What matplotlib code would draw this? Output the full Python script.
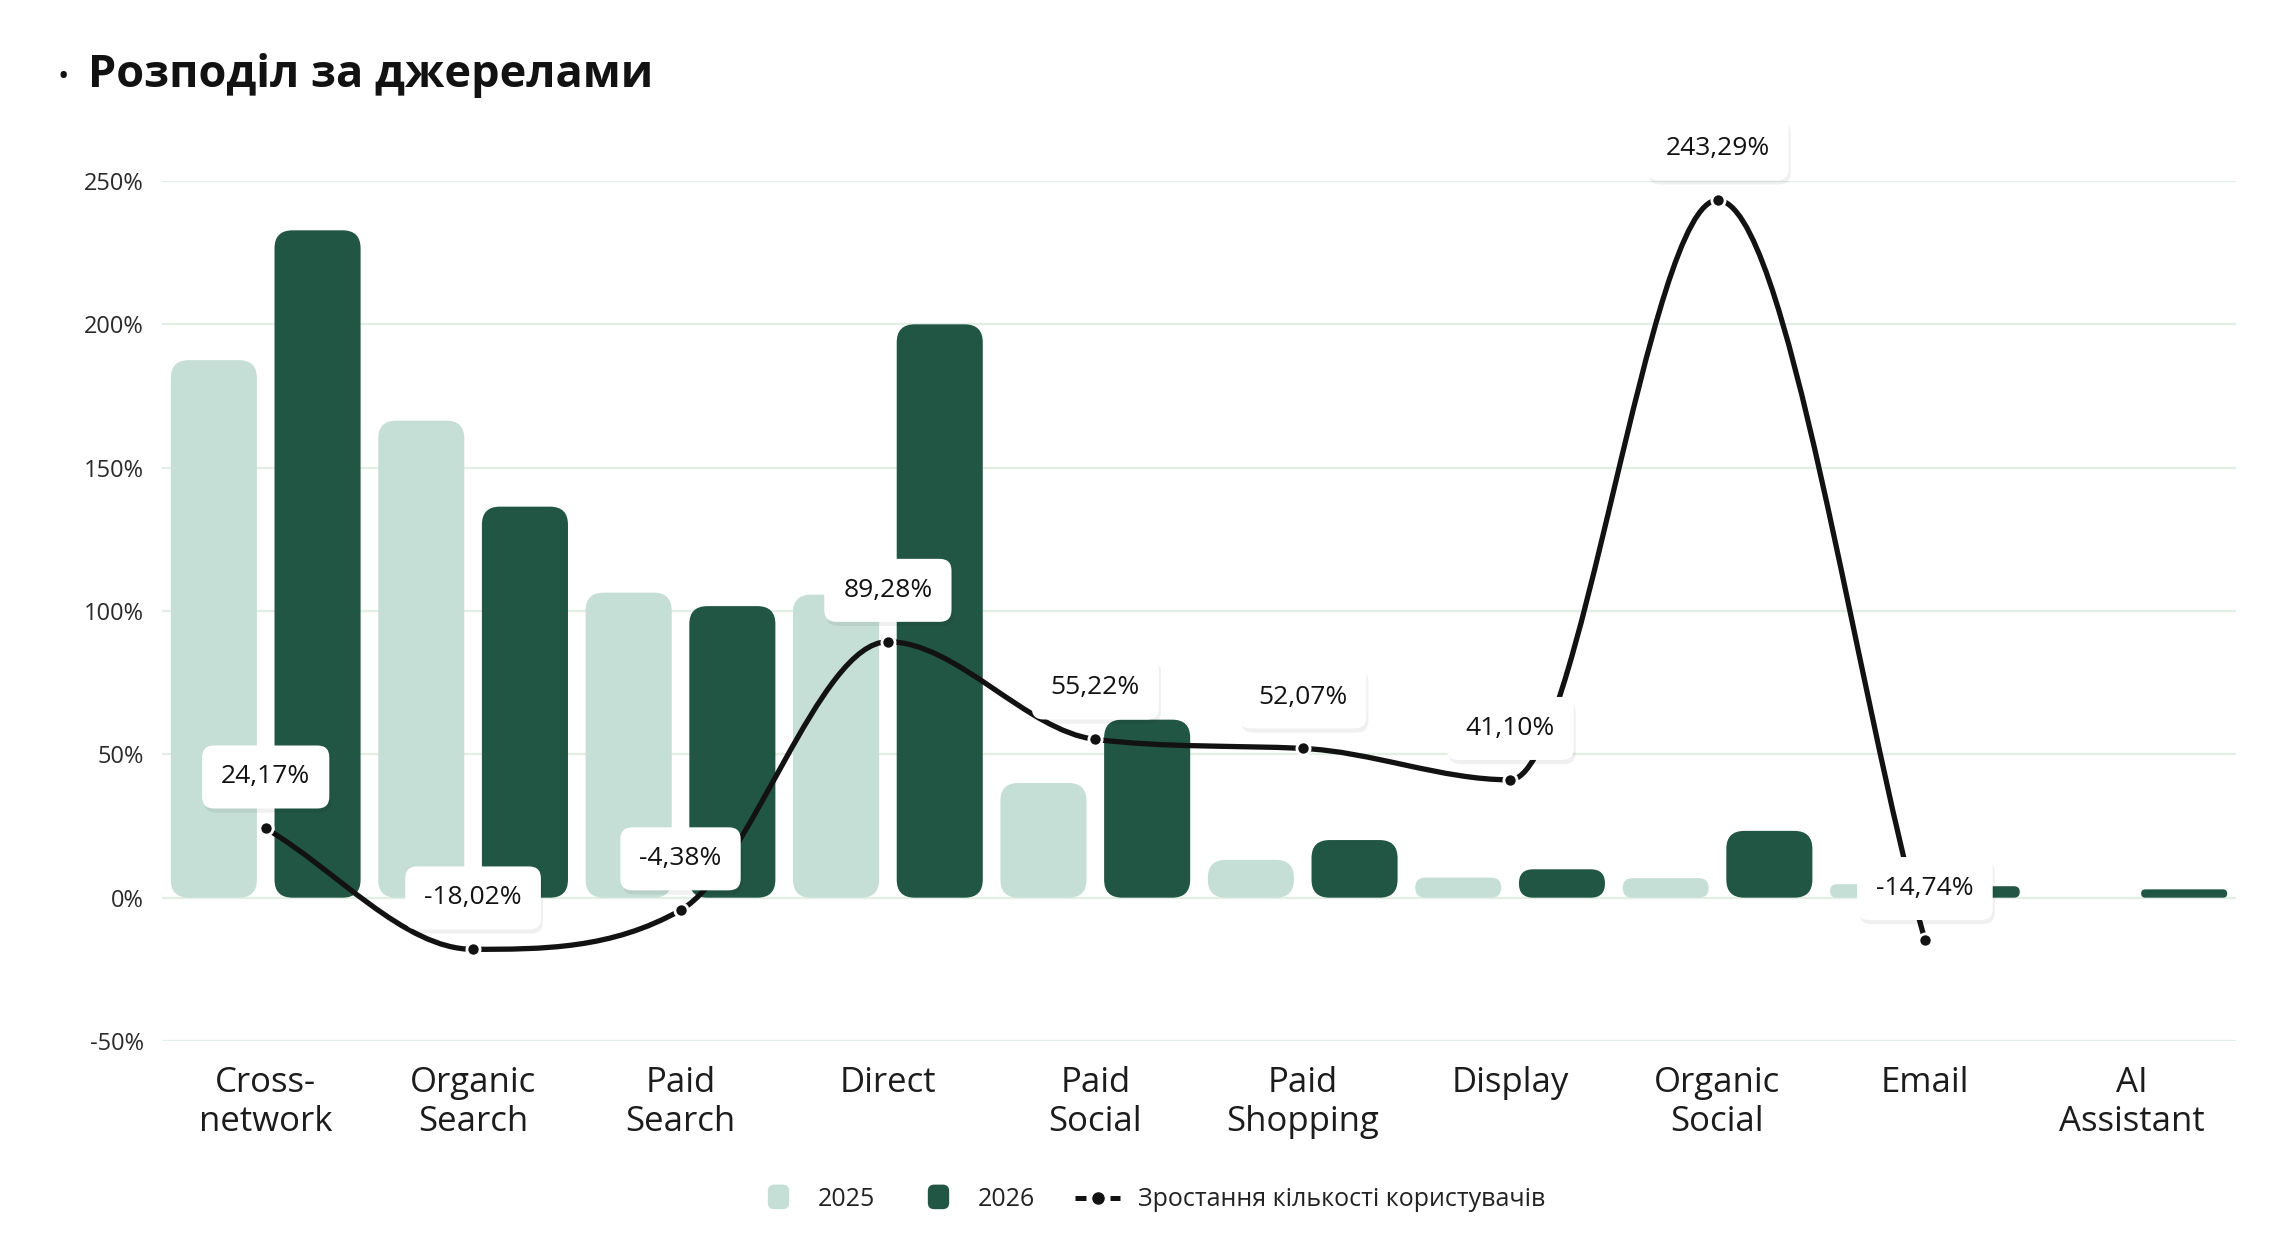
import numpy as np
import matplotlib
matplotlib.use("Agg")
import matplotlib.pyplot as plt
from matplotlib.patches import FancyBboxPatch, PathPatch, BoxStyle
from matplotlib.path import Path
from matplotlib.lines import Line2D

plt.rcParams['font.family'] = ['Open Sans', 'DejaVu Sans']

categories = ["Cross-\nnetwork", "Organic\nSearch", "Paid\nSearch", "Direct", "Paid\nSocial",
              "Paid\nShopping", "Display", "Organic\nSocial", "Email", "AI\nAssistant"]
users_2025 = [187.5, 166.4, 106.4, 105.7, 40.0, 13.2, 7.0, 6.8, 4.7, 0.0]
users_2026 = [232.8, 136.4, 101.7, 200.0, 62.1, 20.1, 9.9, 23.3, 4.0, 2.9]
growth = [24.17, -18.02, -4.38, 89.28, 55.22, 52.07, 41.10, 243.29, -14.74]
y_ticks = [-50, 0, 50, 100, 150, 200, 250]

growth_labels = [f"{v:.2f}%".replace(".", ",") for v in growth]

light = "#C5DED6"
dark = "#215645"
ink = "#121212"
grid_c = "#E3EEE6"

W, H, DPI = 2296, 1246, 100
fig = plt.figure(figsize=(W / DPI, H / DPI), dpi=DPI)
ax = fig.add_axes([162 / W, 1 - 1041 / H, (2236 - 162) / W, (1041 - 181) / H])
x = np.arange(len(categories))
ax.set_xlim(-0.5, len(categories) - 0.5)
ax.set_ylim(-50, 250)

# px per data unit, used to keep corner radii round
ppx = ax.bbox.width / (ax.get_xlim()[1] - ax.get_xlim()[0])
ppy = ax.bbox.height / (ax.get_ylim()[1] - ax.get_ylim()[0])


def rounded_bars(xpos, heights, color, width=0.415, radius_px=18):
    bars = ax.bar(xpos, heights, width=width, color=color)
    for rect in bars:
        rect.set_visible(False)
        w, h = rect.get_width(), rect.get_height()
        if h <= 0:
            continue
        r = min(radius_px, w * ppx / 2, h * ppy / 2)
        p = FancyBboxPatch((rect.get_x(), rect.get_y()), w, h,
                           boxstyle=f"round,pad=0,rounding_size={r / ppx}",
                           mutation_aspect=ppx / ppy, fc=color, ec="none", zorder=2)
        ax.add_patch(p)


rounded_bars(x - 0.25, users_2025, light)
rounded_bars(x + 0.25, users_2026, dark)


def monotone_path(xs, ys):
    # monotone cubic like chart.js
    xs = np.asarray(xs, float)
    ys = np.asarray(ys, float)
    n = len(xs)
    dx = np.diff(xs)
    dk = np.diff(ys) / dx
    mk = np.zeros(n)
    mk[0], mk[-1] = dk[0], dk[-1]
    for i in range(1, n - 1):
        if dk[i - 1] * dk[i] > 0:
            mk[i] = (dk[i - 1] + dk[i]) / 2
    for i in range(n - 1):
        if dk[i] == 0:
            mk[i] = mk[i + 1] = 0
            continue
        a, b = mk[i] / dk[i], mk[i + 1] / dk[i]
        s = a * a + b * b
        if s > 9:
            t = 3 / np.sqrt(s)
            mk[i], mk[i + 1] = a * t * dk[i], b * t * dk[i]
    verts = [(xs[0], ys[0])]
    codes = [Path.MOVETO]
    for i in range(n - 1):
        h = dx[i] / 3
        verts += [(xs[i] + h, ys[i] + mk[i] * h),
                  (xs[i + 1] - h, ys[i + 1] - mk[i + 1] * h),
                  (xs[i + 1], ys[i + 1])]
        codes += [Path.CURVE4] * 3
    return Path(verts, codes)


gx = x[:len(growth)]
ax.add_patch(PathPatch(monotone_path(gx, growth), fc="none", ec=ink, lw=3.8,
                       zorder=4, clip_on=False, capstyle="round"))
ax.plot(gx, growth, "o", ms=9.5, mfc=ink, mec="white", mew=2, zorder=5, clip_on=False)

for xi, g, lab in zip(gx, growth, growth_labels):
    ax.annotate(lab, (xi, g), xytext=(1.5, 34), textcoords="offset points",
                ha="center", va="center", fontsize=19, color="none", zorder=6,
                bbox=dict(boxstyle="round,pad=0.72,rounding_size=0.45",
                          fc=(0, 0, 0, 0.06), ec="none"), annotation_clip=False)
    ax.annotate(lab, (xi, g), xytext=(0, 37), textcoords="offset points",
                ha="center", va="center", fontsize=19, color=ink, zorder=7,
                bbox=dict(boxstyle="round,pad=0.72,rounding_size=0.45",
                          fc="white", ec="none"), annotation_clip=False)

ax.set_yticks(y_ticks)
ax.set_yticklabels([f"{v}%" for v in y_ticks], fontsize=17, color="#2a2a2a")
ax.set_xticks(x)
ax.set_xticklabels(categories, fontsize=25, color="#1c1c1c", linespacing=1.2)
ax.tick_params(axis="y", length=0, pad=13)
ax.tick_params(axis="x", length=0, pad=18)
ax.grid(axis="y", color=grid_c, lw=1.6)
ax.set_axisbelow(True)
for s in ax.spines.values():
    s.set_visible(False)

fig.text(88 / W, 1 - 76 / H, "Розподіл за джерелами", fontsize=32.5,
         fontweight="bold", va="center", color=ink)
fig.text(63 / W, 1 - 78 / H, "•", fontsize=22, va="center", ha="center", color=ink)

sq = BoxStyle.Round(pad=0, rounding_size=0.3)(-0.5, -0.5, 1, 1.15, 1.0)
handles = [
    Line2D([], [], ls="none", marker=sq, ms=20, mfc=light, mec="none"),
    Line2D([], [], ls="none", marker=sq, ms=20, mfc=dark, mec="none"),
    Line2D([], [], color=ink, lw=3.6, ls=(0, (2.2, 1.3)), marker="o", ms=8),
]
fig.legend(handles, ["2025", "2026", "Зростання кількості користувачів"],
           loc="center", bbox_to_anchor=(0.501, 0.037), ncol=3, frameon=False,
           fontsize=18, handlelength=1.8, columnspacing=1.6, handletextpad=0.7,
           labelcolor="#222222")

fig.savefig("out.png", dpi=DPI)
